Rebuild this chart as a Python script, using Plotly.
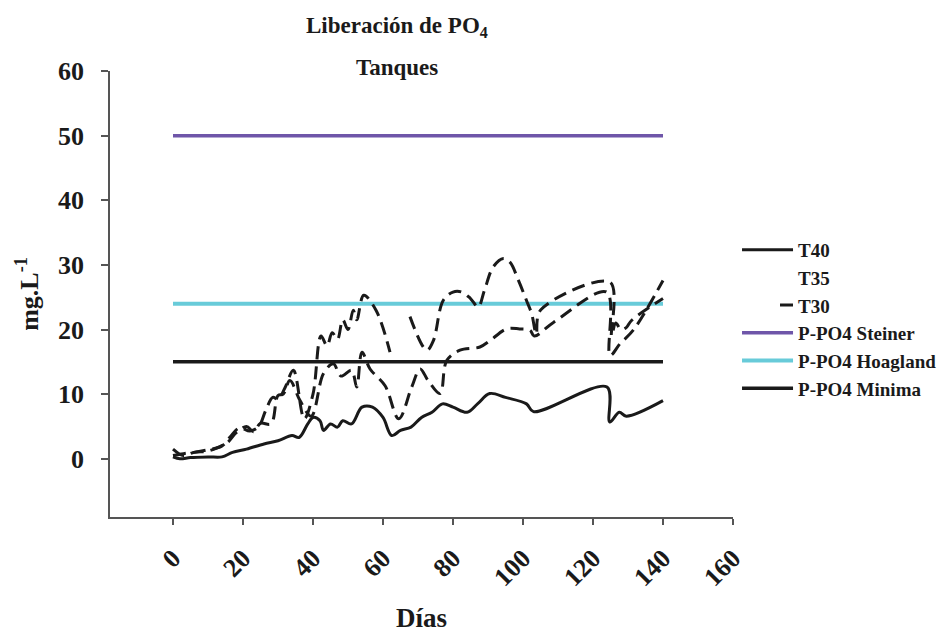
import plotly.graph_objects as go

# --- data -----------------------------------------------------------------
dias_t40 = [0, 2, 5, 10, 14, 17, 21, 26, 30, 34, 36, 38.5, 40, 42, 43, 45, 47,
            48.5, 51, 54, 57, 60, 62.5, 65, 68, 71, 74, 77, 80, 84, 87, 90.5,
            95, 101, 103, 124, 124.8, 127.5, 129.5, 140]
t40 = [0.3, 0.0, 0.2, 0.3, 0.3, 1.0, 1.5, 2.3, 2.8, 3.6, 3.3, 5.4, 6.4, 5.9,
       4.4, 5.4, 4.9, 5.9, 5.4, 8.0, 8.0, 6.4, 3.6, 4.4, 4.9, 6.4, 7.2, 8.5,
       8.0, 7.2, 8.5, 10.1, 9.5, 8.5, 7.3, 11.1, 5.7, 7.2, 6.6, 9.0]

dias_t35 = [0, 3, 6, 10, 14, 16.5, 19, 22, 24.5, 26.5, 28.5, 30, 32, 34.4,
            37.5, 40, 42.3, 44, 45.5, 47, 48.5, 50, 51.5, 52.5, 54.5, 58, 62,
            65, 67.7, 72.5, 74.4, 77.2, 80, 82.5, 85, 87.2, 89, 91.5, 94.4,
            96.3, 98.7, 101, 102.5, 103.8, 105, 124.9, 125.3, 126.5, 128,
            129.5, 131, 140]
t35 = [0.5, 0.8, 1.0, 1.4, 2.0, 3.5, 4.8, 4.3, 5.0, 7.5, 9.5, 9.2, 11.0, 13.7,
       6.2, 10.0, 19.0, 17.5, 19.5, 18.5, 21.5, 20.0, 23.0, 21.5, 25.3, 23.0,
       16.5, None, 22.0, 16.8, 18.3, 24.5, 25.8, 25.8, 24.8, 23.5, 26.1, 29.7,
       31.0, 30.4, 27.6, 24.5, 22.4, 19.3, 23.0, 27.3, 19.0, 21.0, 20.0, 20.3,
       21.4, 24.8]

dias_t30 = [0, 3, 6, 10, 13, 15.5, 18, 21, 23, 25, 28, 30, 31.5, 33.4, 36.3,
            39.5, 43, 45.8, 48, 51, 52.5, 54, 56.3, 60.6, 64.5, 68.2, 70.6,
            72.9, 76.3, 78.2, 82, 87.7, 90.6, 95.3, 99, 102, 103.2, 108.7,
            123.9, 124.9, 127.7, 131.5, 140]
t30 = [1.5, 0.5, 1.0, 1.2, 1.8, 2.5, 4.0, 5.0, 4.2, 5.5, 5.4, 9.8, 10.0, 12.1,
       9.0, 6.6, 13.2, 14.7, 12.8, 13.7, 11.1, 16.5, 13.9, 11.3, 6.2, 11.1,
       13.9, 12.1, 10.1, 15.2, 16.8, 17.3, 18.3, 20.1, 20.1, 19.9, 19.0, 21.1,
       25.8, 16.0, 17.8, 19.9, 27.6]

dias_ref = [0, 140]
steiner = [50, 50]
hoagland = [24, 24]
minima = [15, 15]

x_ticks = [0, 20, 40, 60, 80, 100, 120, 140, 160]
y_ticks = [0, 10, 20, 30, 40, 50, 60]

# --- style ----------------------------------------------------------------
FONT = "Liberation Serif"
BLACK = "#1a1a1a"
PURPLE = "#6f56a9"
CYAN = "#68cbd9"
AXIS = "#555555"
DASH = "13px,7px"


def bold(size):
    return dict(family=FONT, size=size, color=BLACK, weight="bold")


fig = go.Figure()

# reference levels
fig.add_trace(go.Scatter(x=dias_ref, y=steiner, mode="lines", name="P-PO4 Steiner",
                         line=dict(color=PURPLE, width=3.5), legendrank=4))
fig.add_trace(go.Scatter(x=dias_ref, y=hoagland, mode="lines", name="P-PO4 Hoagland",
                         line=dict(color=CYAN, width=4), legendrank=5))
fig.add_trace(go.Scatter(x=dias_ref, y=minima, mode="lines", name="P-PO4 Minima",
                         line=dict(color=BLACK, width=3.5), legendrank=6))

# tank series
fig.add_trace(go.Scatter(x=dias_t35, y=t35, mode="lines", name="T35", showlegend=False,
                         line=dict(color=BLACK, width=3, dash=DASH, shape="spline",
                                   smoothing=1)))
fig.add_trace(go.Scatter(x=dias_t30, y=t30, mode="lines", name="T30", showlegend=False,
                         line=dict(color=BLACK, width=3, dash=DASH, shape="spline",
                                   smoothing=1)))
fig.add_trace(go.Scatter(x=dias_t40, y=t40, mode="lines", name="T40",
                         line=dict(color=BLACK, width=3, shape="spline", smoothing=1),
                         legendrank=1))

# legend keys for the dashed tank series
fig.add_trace(go.Scatter(x=[None], y=[None], mode="lines", name="T35",
                         line=dict(color=BLACK, width=3, dash="0px,200px"),
                         legendrank=2))
fig.add_trace(go.Scatter(x=[None], y=[None], mode="lines", name="T30",
                         line=dict(color=BLACK, width=3, dash="0px,38px,13px,200px"),
                         legendrank=3))

fig.update_layout(
    width=951, height=633,
    margin=dict(l=110, r=218, t=71, b=116, autoexpand=False),
    paper_bgcolor="white", plot_bgcolor="white",
    font=dict(family=FONT, color=BLACK),
    showlegend=True,
    legend=dict(xref="container", yref="container", x=0.775, y=0.6353,
                xanchor="left", yanchor="top", itemwidth=51,
                font=bold(19), bgcolor="rgba(0,0,0,0)", tracegroupgap=0),
    annotations=[
        dict(text="Liberación de PO<sub>4</sub>", xref="paper", yref="paper",
             x=0.4607, y=1.098, xanchor="center", yanchor="middle", showarrow=False,
             font=bold(23)),
        dict(text="Tanques", xref="paper", yref="paper",
             x=0.4607, y=1.008, xanchor="center", yanchor="middle", showarrow=False,
             font=bold(23)),
    ],
)

fig.update_xaxes(
    range=[-18, 160], tickmode="array", tickvals=x_ticks, tickangle=-45,
    showline=True, linecolor=AXIS, linewidth=1.5,
    ticks="outside", ticklen=6, tickwidth=1.5, tickcolor=AXIS,
    showgrid=False, zeroline=False, ticklabelstandoff=8,
    tickfont=bold(26),
    title=dict(text="Días", font=bold(27), standoff=25),
)
fig.update_yaxes(
    range=[-9, 60], tickmode="array", tickvals=y_ticks,
    showline=True, linecolor=AXIS, linewidth=1.5,
    ticks="outside", ticklen=7, tickwidth=1.5, tickcolor=AXIS,
    showgrid=False, zeroline=False, ticklabelstandoff=12,
    tickfont=bold(26),
    title=dict(text="mg.L<sup>-1</sup>", font=bold(26), standoff=12),
)

fig.write_html("out.html")
